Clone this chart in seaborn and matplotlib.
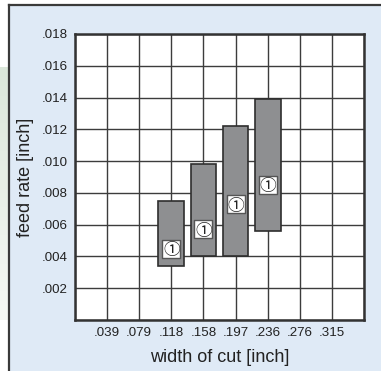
import numpy as np
import pandas as pd
import matplotlib
matplotlib.use("Agg")
import matplotlib.pyplot as plt
import seaborn as sns
from matplotlib.colors import LinearSegmentedColormap

# ---- data ----
width_mm = [3, 4, 5, 6]                      # bar positions (mm grid units)
feed_low = [0.0034, 0.0040, 0.0040, 0.0056]  # bar bottoms [inch]
feed_high = [0.0075, 0.0098, 0.0122, 0.0139] # bar tops [inch]
marker_y = [0.0045, 0.0057, 0.0073, 0.0085]  # position of circled marker
marker_text = ["①", "①", "①", "①"]
x_tick_labels = ["", ".039", ".079", ".118", ".158", ".197", ".236", ".276", ".315", ""]
y_ticks = [0, .002, .004, .006, .008, .010, .012, .014, .016, .018]
y_tick_labels = ["", ".002", ".004", ".006", ".008", ".010", ".012", ".014", ".016", ".018"]

df = pd.DataFrame({"width": width_mm,
                   "height": np.array(feed_high) - np.array(feed_low),
                   "bottom": feed_low})
mk = pd.DataFrame({"width": width_mm, "y": marker_y})

sns.set_theme(style="white")
plt.rcParams['font.family'] = ['Liberation Sans', 'DejaVu Sans', 'Noto Sans CJK JP']

W, H = 381, 371
fig = plt.figure(figsize=(W / 100, H / 100), dpi=100)
fig.patch.set_facecolor("white")

# green gradient strip at far left
grad = np.linspace(0, 1, 256).reshape(-1, 1)
gcmap = LinearSegmentedColormap.from_list("g", ["#dbe7da", "#f6f9f5"])
gax = fig.add_axes([0, 1 - 320 / H, 9 / W, (320 - 67) / H], zorder=-20)
gax.imshow(grad, aspect="auto", cmap=gcmap, extent=[0, 1, 0, 1])
gax.axis("off")

# light-blue panel with dark top/left border
bg = fig.add_axes([9 / W, 0, 1 - 9 / W, 1 - 5 / H], zorder=-10)
bg.set_facecolor("#dfeaf6")
bg.set_xticks([]); bg.set_yticks([])
for k, s in bg.spines.items():
    s.set_visible(k in ("top", "left"))
    s.set_color("#3a3a3a")
    s.set_linewidth(1.6)

ax = fig.add_axes([75 / W, 1 - 320 / H, (364 - 75) / W, (320 - 34) / H], zorder=1)
ax.set_facecolor("white")

sns.barplot(data=df, x="width", y="height", bottom=df["bottom"], native_scale=True,
            width=0.8, color="#8e8f91", saturation=1, edgecolor="#2e2e2e",
            linewidth=1.2, ax=ax, zorder=3)

# white square boxes behind the circled markers
sns.scatterplot(data=mk, x="width", y="y", marker="s", s=175, color="white",
                edgecolor="#555555", linewidth=1.0, ax=ax, zorder=4, legend=False)

for x, y, t in zip(width_mm, marker_y, marker_text):
    ax.text(x, y, t, ha="center", va="center_baseline", fontsize=12, zorder=5,
            family=['Noto Sans CJK JP', 'DejaVu Sans'], color="#222222")

ax.set_xlim(0, 9)
ax.set_ylim(0, 0.018)
ax.set_xticks(range(10))
ax.set_xticklabels(x_tick_labels)
ax.set_yticks(y_ticks)
ax.set_yticklabels(y_tick_labels)
ax.set_xlabel("")
ax.set_ylabel("")
ax.tick_params(length=0, labelsize=9.6, colors="#222222", pad=5)
ax.grid(True, color="#3c3c3c", linewidth=1.0, zorder=0)
ax.set_axisbelow(True)
for s in ax.spines.values():
    s.set_visible(True)
    s.set_color("#333333")
    s.set_linewidth(1.8)

ax.set_xlabel("width of cut [inch]", fontsize=13, color="#222222", labelpad=7)
ax.set_ylabel("feed rate [inch]", fontsize=13, color="#222222", labelpad=6)

fig.savefig("out.png", dpi=100)
